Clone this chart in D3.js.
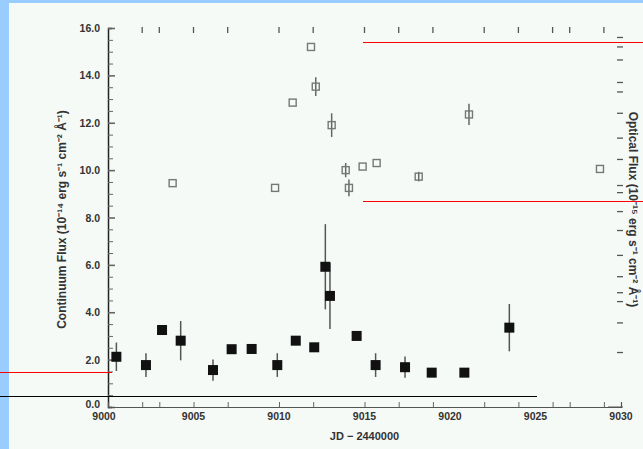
<!DOCTYPE html>
<html>
<head>
<meta charset="utf-8">
<script src="https://cdn.jsdelivr.net/npm/d3@7/dist/d3.min.js"></script>
<style>
  html, body { margin: 0; padding: 0; background: #99ccff; }
  svg { display: block; }
  text { font-family: "Liberation Sans", Arial, sans-serif; fill: #333; }
</style>
</head>
<body>
<svg id="chart" width="643" height="449"></svg>
<script>
// Continuum flux (filled squares, left axis): JD - 2440000, flux, 1-sigma error
const contDays  = [9000.49, 9002.22, 9003.16, 9004.25, 9006.14, 9007.23, 9008.40, 9009.90, 9010.98, 9012.06, 9012.71, 9012.98, 9014.54, 9015.65, 9017.37, 9018.93, 9020.84, 9023.47];
const contFlux  = [2.12, 1.77, 3.25, 2.80, 1.56, 2.44, 2.45, 1.77, 2.80, 2.52, 5.92, 4.69, 3.00, 1.77, 1.68, 1.45, 1.45, 3.35];
const contErr   = [0.60, 0.50, 0.00, 0.83, 0.45, 0.00, 0.00, 0.50, 0.00, 0.00, 1.80, 1.40, 0.00, 0.50, 0.45, 0.00, 0.00, 1.00];

// Optical flux (open symbols, right axis)
const optDays   = [9003.78, 9009.77, 9010.80, 9011.87, 9012.15, 9013.08, 9013.90, 9014.09, 9014.89, 9015.71, 9018.17, 9021.11, 9028.77];
const optFlux   = [18.9, 18.5, 25.7, 30.4, 27.05, 23.8, 20.0, 18.5, 20.3, 20.6, 19.45, 24.7, 20.1];
const optErr    = [0.0, 0.0, 0.0, 0.0, 0.8, 1.0, 0.6, 0.7, 0.0, 0.0, 0.4, 0.9, 0.0];

// Axis ticks
const xTickLabels   = [9000, 9005, 9010, 9015, 9020, 9025, 9030];
const xMinorDays    = [9002, 9003, 9005, 9007, 9010, 9012, 9015, 9017, 9019, 9022, 9024, 9026, 9027, 9029];
const yTickLabels   = [0, 2, 4, 6, 8, 10, 12, 14, 16];
const rightTicks    = [31.2, 30.4, 29.3, 27.4, 26.6, 24.8, 22.7, 20.9, 18.7, 18.1, 16.5, 14.9, 12.8, 11.0, 9.65, 8.9, 7.1, 4.6];

const svg = d3.select("#chart");
const W = 643, H = 449;

// white page area inside the blue frame
svg.append("rect").attr("x", 9).attr("y", 3).attr("width", W - 9).attr("height", H - 3).attr("fill", "#f5faf7");

const x  = d3.scaleLinear().domain([9000, 9030]).range([108, 621]);
const y  = d3.scaleLinear().domain([0, 16]).range([407, 28]);
const yR = d3.scaleLinear().domain([0, 32]).range([407, 28]);

// left axis
const yAxis = d3.axisRight(y).tickValues(d3.range(0, 16.01, 0.5)).tickSize(4).tickFormat("");
const gy = svg.append("g").attr("transform", `translate(${x(9000)},0)`).call(yAxis);
gy.select(".domain").attr("stroke", "#222").attr("stroke-width", 1.5);
gy.selectAll(".tick line").attr("stroke", "#666")
  .attr("x2", d => (d % 2 === 0 ? 7 : 5))
  .attr("stroke-width", d => (d % 2 === 0 ? 1.6 : 1));
svg.append("g").selectAll("text").data(yTickLabels).join("text")
  .attr("x", 100).attr("y", d => y(d) + (d === 0 ? 1 : 4))
  .attr("text-anchor", "end").attr("font-size", 10.5).attr("font-weight", "bold").attr("fill", "#444")
  .text(d => d.toFixed(1));

// bottom axis line + ticks
const xAxis = d3.axisTop(x).tickValues(xMinorDays).tickSize(5).tickFormat("");
const gx = svg.append("g").attr("transform", `translate(0,${y(0)})`).call(xAxis);
gx.select(".domain").attr("stroke", "#555").attr("stroke-width", 1.2);
gx.selectAll(".tick line").attr("stroke", "#666");
svg.append("g").selectAll("text").data(xTickLabels).join("text")
  .attr("x", d => x(d) - (d === 9000 ? 4 : 0)).attr("y", 420)
  .attr("text-anchor", "middle").attr("font-size", 10.5).attr("font-weight", "bold").attr("fill", "#444")
  .text(d => d);

// top ticks (no frame line)
svg.append("g").selectAll("line").data(xMinorDays).join("line")
  .attr("x1", d => x(d)).attr("x2", d => x(d))
  .attr("y1", 27).attr("y2", 33).attr("stroke", "#555").attr("stroke-width", 1.3);

// right axis ticks (no frame line)
svg.append("g").selectAll("line").data(rightTicks).join("line")
  .attr("x1", 617).attr("x2", 623)
  .attr("y1", d => yR(d)).attr("y2", d => yR(d)).attr("stroke", "#555").attr("stroke-width", 1.3);
svg.append("line").attr("x1", 608).attr("x2", 623).attr("y1", y(0)).attr("y2", y(0)).attr("stroke", "#555");

// axis titles
svg.append("text").attr("x", x(9015)).attr("y", 440).attr("text-anchor", "middle")
  .attr("font-size", 11).attr("font-weight", "bold").attr("fill", "#444").text("JD \u2212 2440000");
svg.append("text").attr("transform", `translate(66,${(y(0) + y(16)) / 2 + 2}) rotate(-90)`)
  .attr("text-anchor", "middle").attr("font-size", 12).attr("font-weight", "bold").attr("fill", "#444")
  .text("Continuum Flux (10\u207B\u00B9\u2074 erg s\u207B\u00B9 cm\u207B\u00B2 \u00C5\u207B\u00B9)");
svg.append("text").attr("transform", `translate(629,${(y(0) + y(16)) / 2 - 8}) rotate(90)`)
  .attr("text-anchor", "middle").attr("font-size", 12).attr("font-weight", "bold").attr("fill", "#444")
  .text("Optical Flux (10\u207B\u00B9\u2075 erg s\u207B\u00B9 cm\u207B\u00B2 \u00C5\u207B\u00B9)");

// optical series: open grey symbols with error bars
const opt = optDays.map((d, i) => ({ d, v: optFlux[i], e: optErr[i] }));
const og = svg.append("g");
og.selectAll("line.err").data(opt.filter(p => p.e > 0)).join("line").attr("class", "err")
  .attr("x1", p => x(p.d)).attr("x2", p => x(p.d))
  .attr("y1", p => yR(p.v - p.e)).attr("y2", p => yR(p.v + p.e))
  .attr("stroke", "#666").attr("stroke-width", 1.5);
og.selectAll("rect").data(opt).join("rect")
  .attr("x", p => x(p.d) - 3.5).attr("y", p => yR(p.v) - 3.5)
  .attr("width", 7).attr("height", 7)
  .attr("fill", "none").attr("stroke", "#777").attr("stroke-width", 1.4);

// continuum series: filled squares with error bars
const cont = contDays.map((d, i) => ({ d, v: contFlux[i], e: contErr[i] }));
const cg = svg.append("g");
cg.selectAll("line").data(cont.filter(p => p.e > 0)).join("line")
  .attr("x1", p => x(p.d)).attr("x2", p => x(p.d))
  .attr("y1", p => y(p.v - p.e)).attr("y2", p => y(p.v + p.e))
  .attr("stroke", "#555").attr("stroke-width", 1.5);
cg.selectAll("rect").data(cont).join("rect")
  .attr("x", p => x(p.d) - 5).attr("y", p => y(p.v) - 5)
  .attr("width", 10).attr("height", 10).attr("fill", "#111");

// reference guide lines
const guides = [
  { x1: 363, x2: 643, y: 42.5,  c: "#ff0000" },
  { x1: 363, x2: 643, y: 201.5, c: "#ff0000" },
  { x1: 0,   x2: 112, y: 372.5, c: "#ff0000" },
  { x1: 0,   x2: 537, y: 396.5, c: "#000000" }
];
svg.append("g").selectAll("line").data(guides).join("line")
  .attr("x1", g => g.x1).attr("x2", g => g.x2).attr("y1", g => g.y).attr("y2", g => g.y)
  .attr("stroke", g => g.c).attr("stroke-width", 1);
</script>
</body>
</html>
